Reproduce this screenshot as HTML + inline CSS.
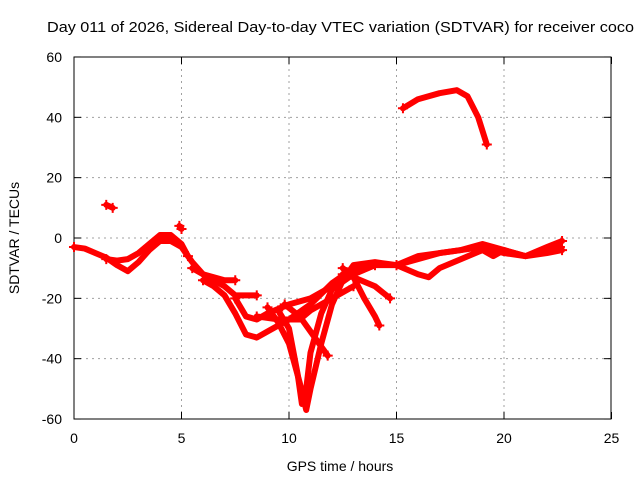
<!DOCTYPE html>
<html><head><meta charset="utf-8"><style>
body{margin:0;background:#fff}
svg text{font-family:"Liberation Sans",sans-serif;font-size:14px;fill:#000}
</style></head><body>
<svg width="640" height="480" viewBox="0 0 640 480">
<g id="grid"></g>
<g id="axes"></g>
<g id="series"></g>
<text x="47" y="32" textLength="587" lengthAdjust="spacingAndGlyphs" style="font-size:15px">Day 011 of 2026, Sidereal Day-to-day VTEC variation (SDTVAR) for receiver coco</text>
<text x="340" y="471" text-anchor="middle">GPS time / hours</text>
<text transform="translate(19,238) rotate(-90)" text-anchor="middle">SDTVAR / TECUs</text>
</svg>
<script>
const xTicks=[0,5,10,15,20,25];
const yTicks=[60,40,20,0,-20,-40,-60];
const track1=[[0,-3],[0.5,-3.5],[1,-5],[1.5,-6.5],[2,-9],[2.5,-11],[3,-8],[3.5,-4],[4,-1],[4.5,-1],[5,-3],[5.5,-8],[6,-12],[6.5,-14],[7,-16],[7.5,-19],[8,-19],[8.5,-19]];
const track2=[[1.5,-7],[2,-7.5],[2.5,-7],[3,-5],[3.5,-2],[4,1],[4.5,1],[5,-2],[5.3,-6]];
const track3=[[1.5,11],[1.8,10]];
const track4=[[4.9,4],[5,3]];
const track5=[[5.5,-10],[6,-12],[6.5,-13],[7,-14],[7.5,-14]];
const track6=[[6,-14],[6.5,-16],[7,-19],[7.5,-25],[8,-32],[8.5,-33],[9,-31],[10,-27],[11,-22],[12,-15],[13,-10],[14,-9],[15,-9]];
const track7=[[7.5,-20],[8,-26],[8.5,-27],[9,-25],[10,-22],[11,-20],[12,-16],[13,-12],[14,-9]];
const track8=[[9,-23],[9.5,-28],[10,-35],[10.5,-48],[10.8,-57],[11,-50],[11.5,-35],[12,-22],[12.5,-14],[13,-9],[14,-8],[15,-9],[16,-7],[17,-5],[18,-4],[19,-3],[20,-5],[21,-6],[22,-4],[22.6,-3]];
const track9=[[9.5,-24],[10,-30],[10.4,-45],[10.6,-55],[10.8,-50],[11,-38],[11.5,-25],[12,-17],[13,-12],[14,-9]];
const track10=[[9.8,-22],[10.5,-26],[11,-31],[11.5,-36],[11.8,-39]];
const track11=[[8.5,-26],[9.5,-27],[10.5,-27],[11,-24],[12,-20],[13,-16]];
const track12=[[12.5,-10],[13,-13],[13.5,-20],[14,-26],[14.2,-29]];
const track13=[[12.5,-12],[13,-13],[14,-16],[14.7,-20]];
const track14=[[15,-9],[16,-12],[16.5,-13],[17,-10],[18,-7],[19,-4],[19.5,-6],[20,-4],[21,-6],[22,-5],[22.7,-4]];
const track15=[[15,-9],[16,-6],[17,-5],[18,-4],[19,-2],[20,-4],[21,-6],[22,-3],[22.7,-1]];
const track16=[[15.3,43],[16,46],[17,48],[17.8,49],[18.3,47],[18.8,40],[19.2,31]];
const tracks=[track1,track2,track3,track4,track5,track6,track7,track8,track9,track10,track11,track12,track13,track14,track15,track16];
const NS='http://www.w3.org/2000/svg';
const X=h=>74+(h/25)*537.5, Y=v=>238-v*3.017;
function mk(t,a,p){const e=document.createElementNS(NS,t);for(const k in a)e.setAttribute(k,a[k]);p.appendChild(e);return e;}
const grid=document.getElementById('grid'),axes=document.getElementById('axes'),ser=document.getElementById('series');
xTicks.forEach(t=>{
 if(t>0&&t<25){const g=mk('line',{x1:X(t),x2:X(t),y1:57,y2:419,stroke:'#a0a0a0','stroke-dasharray':'2,4'},grid);
 
 }
 const l=mk('text',{x:X(t),y:443,'text-anchor':'middle'},axes);l.textContent=t;
 
 
 mk('line',{x1:X(t),x2:X(t),y1:419,y2:412,stroke:'#000'},axes);
 mk('line',{x1:X(t),x2:X(t),y1:57,y2:64,stroke:'#000'},axes);
});
yTicks.forEach(t=>{
 if(t>-60&&t<60){const g=mk('line',{x1:74,x2:611,y1:Y(t),y2:Y(t),stroke:'#a0a0a0','stroke-dasharray':'2,4'},grid);
 
 }
 const l=mk('text',{x:62,y:Y(t)+5,'text-anchor':'end'},axes);l.textContent=t;
 
 
 mk('line',{x1:74,x2:81,y1:Y(t),y2:Y(t),stroke:'#000'},axes);
 mk('line',{x1:611,x2:604,y1:Y(t),y2:Y(t),stroke:'#000'},axes);
});
const fr=mk('rect',{x:74,y:57,width:537,height:362,fill:'none',stroke:'#000'},axes);


tracks.forEach((tr,i)=>{
 const pl=mk('polyline',{points:tr.map(p=>X(p[0])+','+Y(p[1])).join(' '),fill:'none',stroke:'#ff0000','stroke-width':6,'stroke-linejoin':'round','stroke-linecap':'round'},ser);
 
 
 [tr[0],tr[tr.length-1]].forEach(p=>{
  const c=mk('path',{d:`M${X(p[0])-5},${Y(p[1])}h10M${X(p[0])},${Y(p[1])-5}v10`,stroke:'#ff0000','stroke-width':2},ser);
  
  
 });
});
</script>
</body></html>
